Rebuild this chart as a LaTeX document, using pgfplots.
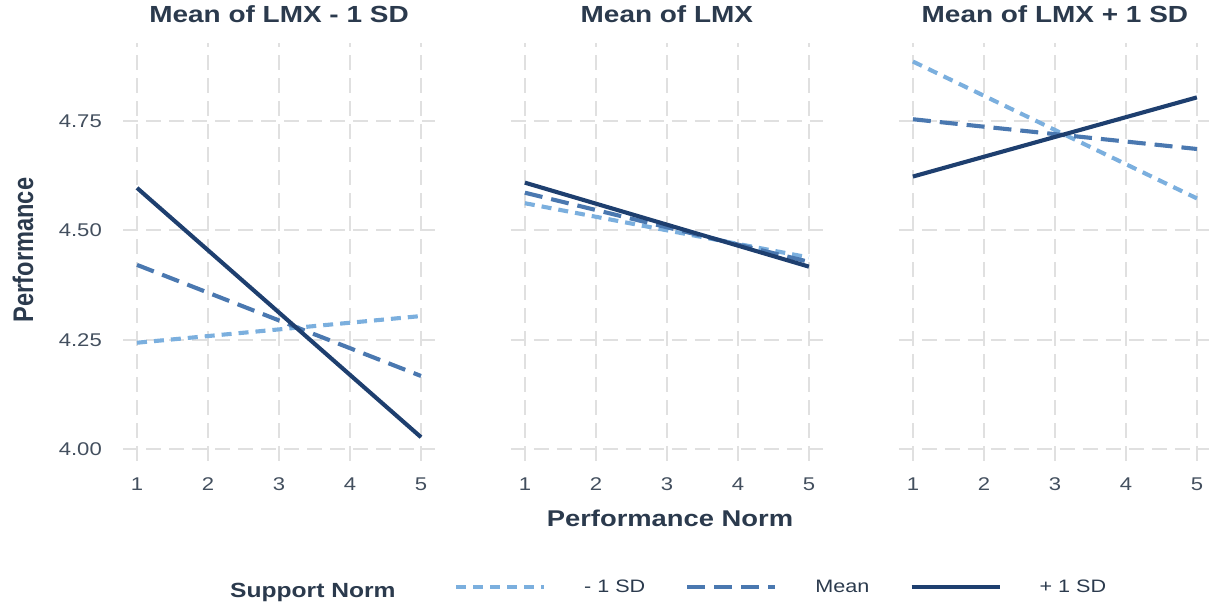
\documentclass[border=0pt]{standalone}
\usepackage{fontspec}
\setmainfont{Liberation Sans}[FakeStretch=1.2]
\newfontfamily\plainfont{Liberation Sans}
\usepackage{pgfplots}
\pgfplotsset{compat=1.18}
\definecolor{cLight}{HTML}{7BAFDE}
\definecolor{cMean}{HTML}{4A78B0}
\definecolor{cDark}{HTML}{1E3F6F}
\definecolor{txt}{HTML}{2B3A4D}
\definecolor{tick}{HTML}{434F5E}
\definecolor{gridc}{HTML}{E0E0E0}
\pgfplotsset{
  panel/.style={
    scale only axis, width=312.4pt, height=418pt,
    xmin=0.8, xmax=5.2, ymin=3.97256, ymax=4.92835,
    anchor=south west,
    axis line style={draw=none},
    major tick length=0pt,
    tick style={draw=none},
    xtick={1,2,3,4,5}, ytick={4,4.25,4.5,4.75},
    grid=major,
    grid style={gridc, line width=1.9pt, dash pattern=on 15pt off 8pt},
    /pgf/number format/.cd, fixed, fixed zerofill, precision=2, assume math mode=true,
    /pgfplots/.cd,
    xticklabel style={anchor=base, inner sep=0pt, yshift=-29.6pt, font=\fontsize{18.4}{20}\selectfont, text=tick},
    yticklabel style={anchor=east, inner sep=0pt, xshift=-20.8pt, font=\fontsize{18.4}{20}\selectfont, text=tick},
    xticklabel={\pgfmathprintnumber[fixed,precision=0]{\tick}},
    title style={at={(0.5,1)}, anchor=base, inner sep=0pt, yshift=14.7pt, font=\bfseries\fontsize{23.3}{26}\selectfont, text=txt},
    legend image code/.code={\draw[#1] (0pt,0pt) -- (88pt,0pt);},
  },
  sLight/.style={cLight, line width=4.1pt, dash pattern=on 10pt off 7pt},
  sMean/.style={cMean, line width=4.1pt, dash pattern=on 18pt off 9pt},
  sDark/.style={cDark, line width=4.1pt},
}
\begin{document}
\begin{tikzpicture}
\useasboundingbox (0,0) rectangle (1209pt,606pt);
\begin{axis}[panel, at={(122.8pt,145pt)}, title={Mean of LMX - 1 SD},
  legend columns=3,
  legend style={draw=none, fill=none, inner sep=0pt, outer sep=0pt,
    at={(1.0602,-0.3014)}, anchor=west,
    font=\fontsize{18}{20}\selectfont, text=txt,
    nodes={inner sep=0pt},
    /tikz/every odd column/.append style={column sep=38pt},
    /tikz/every even column/.append style={column sep=40pt}},
  legend cell align=left]
\addplot[sLight] coordinates {(1,4.243) (5,4.304)};
\addlegendentry{- 1 SD}
\addplot[sMean] coordinates {(1,4.421) (5,4.167)};
\addlegendentry{Mean}
\addplot[sDark] coordinates {(1,4.597) (5,4.027)};
\addlegendentry{+ 1 SD}
\end{axis}
\begin{axis}[panel, at={(510.7pt,145pt)}, title={Mean of LMX}, yticklabels={}]
\addplot[sLight] coordinates {(1,4.562) (5,4.438)};
\addplot[sMean] coordinates {(1,4.586) (5,4.428)};
\addplot[sDark] coordinates {(1,4.609) (5,4.417)};
\end{axis}
\begin{axis}[panel, at={(898.7pt,145pt)}, title={Mean of LMX + 1 SD}, yticklabels={}]
\addplot[sLight] coordinates {(1,4.886) (5,4.573)};
\addplot[sMean] coordinates {(1,4.754) (5,4.686)};
\addplot[sDark] coordinates {(1,4.623) (5,4.804)};
\end{axis}
\node[anchor=base, inner sep=0pt, text=txt, font=\bfseries\fontsize{22.8}{26}\selectfont] at (670pt,79.8pt) {Performance Norm};
\node[rotate=90, anchor=base, inner sep=0pt, text=txt] at (33pt,356pt) {\scalebox{1}[1.2]{\plainfont\bfseries\fontsize{23.6}{26}\selectfont Performance}};
\node[anchor=base west, inner sep=0pt, text=txt, font=\bfseries\fontsize{20.5}{24}\selectfont] at (230pt,9pt) {Support Norm};
\end{tikzpicture}
\end{document}
